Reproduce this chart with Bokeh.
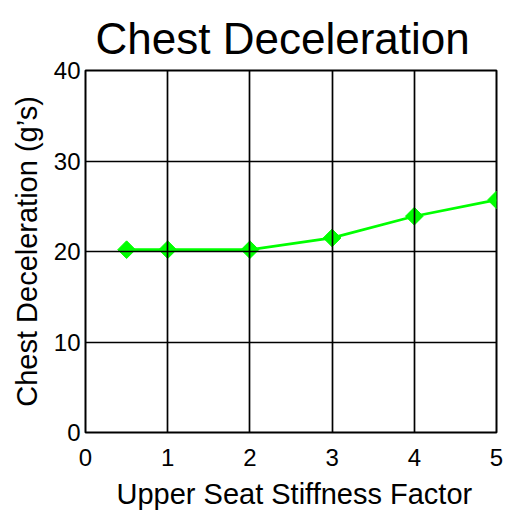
import math
from bokeh.plotting import figure
from bokeh.models import FixedTicker, Range1d, Title
from bokeh.embed import file_html
from bokeh.resources import INLINE

stiffness = [0.5, 1, 2, 3, 4, 5]
chest_g = [20.2, 20.2, 20.2, 21.5, 23.9, 25.7]
x_ticks = [0, 1, 2, 3, 4, 5]
y_ticks = [0, 10, 20, 30, 40]

FONT = "Liberation Sans"

p = figure(width=515, height=517, output_backend="svg", toolbar_location=None,
           x_range=Range1d(0, 5), y_range=Range1d(0, 40),
           min_border_left=85, min_border_right=19, min_border_top=70, min_border_bottom=84)

p.title = Title(text="Chest Deceleration", text_font=FONT, text_font_size="44px",
                text_font_style="normal", text_color="black", text_line_height=0.6,
                align="left", offset=10, standoff=16)

p.outline_line_color = "black"
p.outline_line_width = 2
p.background_fill_color = "white"
p.border_fill_color = "white"

for ax in (p.xaxis[0], p.yaxis[0]):
    ax.axis_line_color = None
    ax.major_tick_line_color = None
    ax.minor_tick_line_color = None
    ax.major_tick_out = 0
    ax.major_tick_in = 0
    ax.major_label_text_font = FONT
    ax.major_label_text_font_size = "24px"
    ax.major_label_text_color = "black"
    ax.axis_label_text_font = FONT
    ax.axis_label_text_font_size = "29px"
    ax.axis_label_text_font_style = "normal"
    ax.axis_label_text_color = "black"

p.xaxis.ticker = FixedTicker(ticks=x_ticks)
p.yaxis.ticker = FixedTicker(ticks=y_ticks)
p.yaxis.axis_label = "Chest Deceleration (g\u2019s)"
p.xaxis.major_label_standoff = 16
p.yaxis.major_label_standoff = 5
p.yaxis.axis_label_standoff = 8

# x-axis title below the tick labels
p.add_layout(Title(text="Upper Seat Stiffness Factor", text_font=FONT,
                   text_font_size="29px", text_font_style="normal",
                   text_color="black", text_line_height=0.6,
                   align="left", offset=31, standoff=15),
             "below")

p.xgrid.ticker = FixedTicker(ticks=x_ticks)
p.ygrid.ticker = FixedTicker(ticks=y_ticks)
for g in (p.xgrid[0], p.ygrid[0]):
    g.grid_line_color = "black"
    g.grid_line_width = 1.7
    g.grid_line_alpha = 1.0
    g.level = "overlay"

p.line(stiffness, chest_g, line_color="#00FF00", line_width=2.7)
p.scatter(stiffness, chest_g, marker="square", angle=math.pi / 4, size=12.5,
          fill_color="#00FF00", line_color="#00FF00", line_width=1)

open("out.html", "w").write(file_html(p, INLINE))
